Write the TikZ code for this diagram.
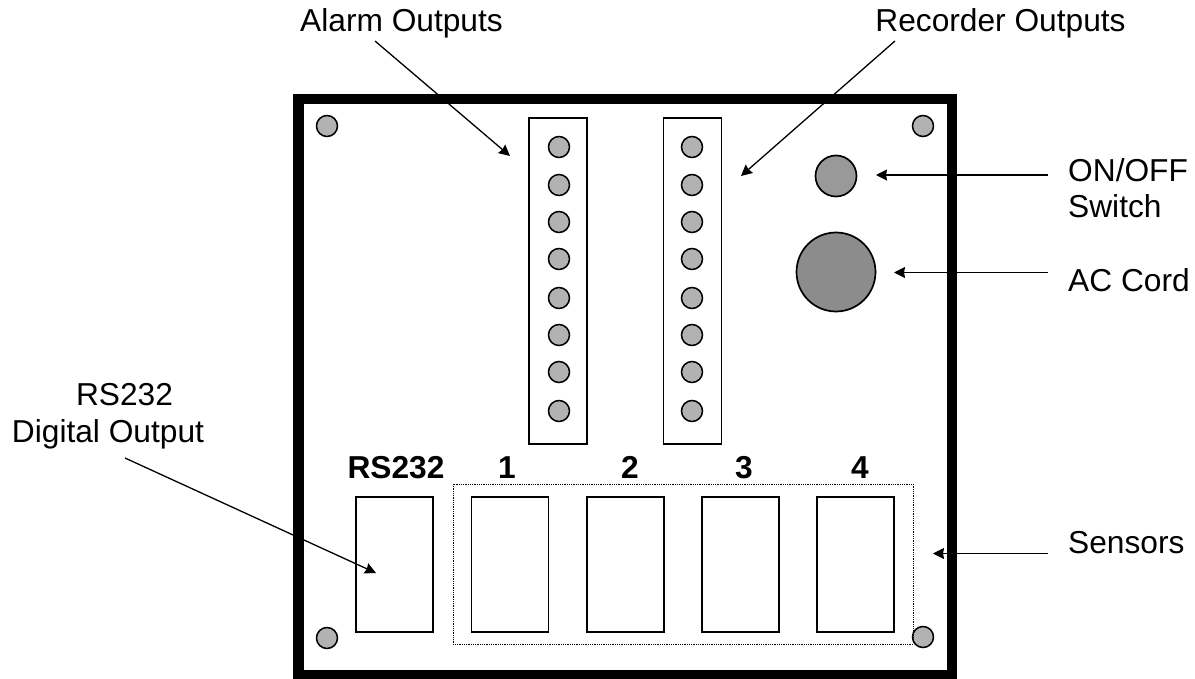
\documentclass[tikz,border=0pt]{standalone}
\usepackage{fontspec}
\setmainfont{Liberation Sans}
\usetikzlibrary{arrows.meta}
\tikzset{
	hole/.style={circle,draw,line width=1.5pt,fill=black!30,minimum size=21pt,inner sep=0pt},
	port/.style={draw,line width=1.4pt,minimum width=77pt,minimum height=135pt,inner sep=0pt},
	strip/.style={draw,line width=1.3pt,minimum width=58pt,minimum height=326pt,inner sep=0pt},
	lbl/.style={font=\fontsize{31.7}{36}\selectfont,inner sep=0pt,anchor=base},
	lblleft/.style={lbl,anchor=base west},
	num/.style={lbl,font=\fontsize{31.7}{36}\selectfont\bfseries},
	pointer/.style={->,line width=1.3pt}
}
\begin{document}
\begin{tikzpicture}[>={Stealth[length=11pt,width=11pt,inset=1pt]},x=1pt,y=-1pt, line join=miter]
	\useasboundingbox (0,0) rectangle (1195,679);
	% case
	\draw[line width=10.5pt] (298.5,99) rectangle (952,675);
	% corner screws
	\node[hole] (screwA) at (327,126) {};
	\node[hole] (screwB) at (923,126) {};
	\node[hole] (screwC) at (327,638) {};
	\node[hole] (screwD) at (923,637) {};
	% terminal strips
	\node[strip] (alarm) at (558,281) {};
	\node[strip] (recorder) at (692.5,281) {};
	\foreach \i/\y in {1/147,2/185,3/222,4/259,5/298,6/335,7/372,8/411} {
		\node[hole] (alarm\i) at (559,\y) {};
		\node[hole] (recorder\i) at (692,\y) {};
	}
	% switch and cord
	\node[hole,line width=1.7pt,minimum size=41pt,fill=black!40] (switch) at (836,176) {};
	\node[hole,line width=1.7pt,minimum size=79pt,fill=black!45] (cord) at (836,272) {};
	% connectors
	\node[port] (rs) at (394.5,564.5) {};
	\foreach \i/\x in {1/510,2/625.5,3/740.5,4/855.5} {
		\node[port] (sensor\i) at (\x,564.5) {};
	}
	\draw[densely dotted,line width=0.8pt] (453,484) rectangle (913,644);
	\node[num] (numrs) at (396,478) {RS232};
	\node[num] (num1) at (507,478) {1};
	\node[num] (num2) at (630,478) {2};
	\node[num] (num3) at (744,478) {3};
	\node[num] (num4) at (860,478) {4};
	% labels
	\node[lbl] (lblalarm) at (401.5,32) {Alarm Outputs};
	\node[lbl] (lblrec) at (1000.5,32) {Recorder Outputs};
	\node[lblleft] (lblon) at (1068,182) {ON/OFF};
	\node[lblleft] (lblsw) at (1068,218) {Switch};
	\node[lblleft] (lblac) at (1068,292) {AC Cord};
	\node[lblleft] (lblsens) at (1068,553) {Sensors};
	\node[lbl] (lblrs) at (124.5,405) {RS232};
	\node[lbl] (lbldig) at (108,442) {Digital Output};
	% pointers
	\coordinate (tipalarm) at (510,156);
	\coordinate (tiprec) at (741,176);
	\coordinate (tipon) at (876,175);
	\coordinate (tipac) at (894,272.5);
	\coordinate (tipsens) at (933,553.5);
	\coordinate (tiprs) at (376,573);
	\coordinate (fromalarm) at (375,41);
	\coordinate (fromrec) at (895,41);
	\coordinate (fromon) at (1048,175);
	\coordinate (fromac) at (1048,272.5);
	\coordinate (fromsens) at (1048,553.5);
	\coordinate (fromrs) at (125,458);
	\foreach \a/\b in {fromalarm/tipalarm,fromrec/tiprec,fromon/tipon,fromac/tipac,fromsens/tipsens,fromrs/tiprs}
		\draw[pointer] (\a) -- (\b);
\end{tikzpicture}
\end{document}
